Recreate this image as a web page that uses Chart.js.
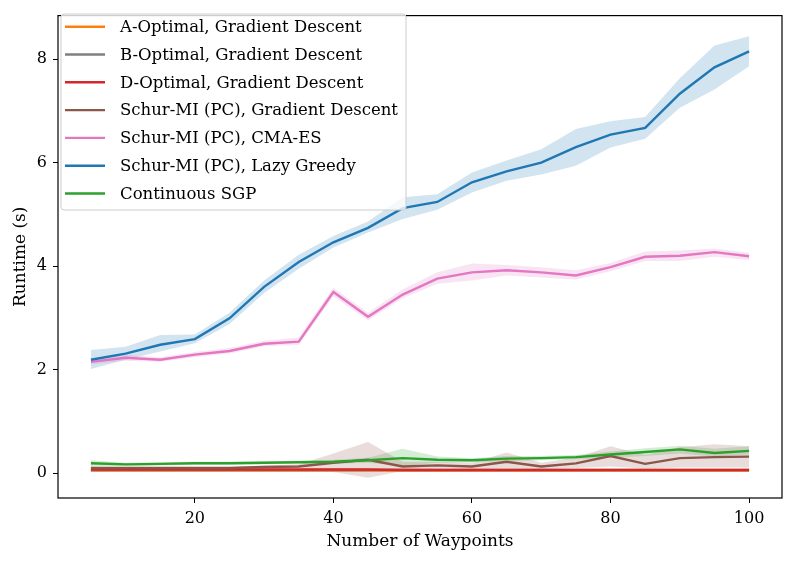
<!DOCTYPE html>
<html><head><meta charset="utf-8">
<script src="https://cdn.jsdelivr.net/npm/chart.js@4.4.0/dist/chart.umd.min.js"></script>
<style>html,body{margin:0;padding:0;background:#fff}#wrap{width:794px;height:562px}</style>
</head><body><div id="wrap"><canvas id="c" width="794" height="562"></canvas></div>
<script>
const waypoints = [5,10,15,20,25,30,35,40,45,50,55,60,65,70,75,80,85,90,95,100];
const xTicks = [20,40,60,80,100];
const yTicks = [0,2,4,6,8];
const seriesNames = ["A-Optimal, Gradient Descent","B-Optimal, Gradient Descent","D-Optimal, Gradient Descent","Schur-MI (PC), Gradient Descent","Schur-MI (PC), CMA-ES","Schur-MI (PC), Lazy Greedy","Continuous SGP"];
const seriesColors = ["#ff7f0e","#7f7f7f","#d62728","#8c564b","#e377c2","#1f77b4","#2ca02c"];

const aOptimal = [0.05,0.05,0.05,0.05,0.05,0.05,0.05,0.05,0.05,0.05,0.05,0.05,0.05,0.05,0.05,0.05,0.05,0.05,0.05,0.05];
const bOptimal = [0.06,0.06,0.06,0.06,0.06,0.06,0.06,0.06,0.06,0.06,0.06,0.06,0.06,0.06,0.06,0.06,0.06,0.06,0.06,0.06];
const dOptimal = [0.07,0.07,0.07,0.07,0.07,0.07,0.07,0.07,0.07,0.06,0.06,0.06,0.06,0.06,0.06,0.06,0.06,0.06,0.06,0.06];

const schurGD    = [0.10,0.10,0.10,0.10,0.10,0.12,0.13,0.20,0.26,0.13,0.15,0.13,0.22,0.13,0.19,0.33,0.18,0.29,0.31,0.32];
const schurGDLo  = [0.08,0.08,0.08,0.08,0.08,0.09,0.10,0.02,-0.09,0.04,0.09,0.08,0.09,0.08,0.10,0.13,0.09,0.11,0.11,0.11];
const schurGDHi  = [0.12,0.12,0.12,0.12,0.12,0.15,0.17,0.38,0.60,0.22,0.22,0.20,0.40,0.20,0.30,0.52,0.35,0.50,0.56,0.52];

const cmaes      = [2.15,2.23,2.19,2.29,2.36,2.50,2.54,3.50,3.02,3.45,3.76,3.88,3.92,3.88,3.82,3.98,4.18,4.20,4.27,4.19];
const cmaesLo    = [2.10,2.17,2.15,2.24,2.31,2.45,2.48,3.42,2.95,3.38,3.66,3.72,3.82,3.78,3.74,3.90,4.10,4.10,4.18,4.12];
const cmaesHi    = [2.20,2.29,2.24,2.34,2.42,2.56,2.62,3.58,3.10,3.55,3.88,4.05,4.02,3.98,3.92,4.06,4.28,4.30,4.34,4.26];

const lazyGreedy = [2.19,2.31,2.48,2.59,2.99,3.60,4.08,4.46,4.74,5.12,5.24,5.62,5.83,6.00,6.30,6.54,6.67,7.33,7.84,8.15];
const lazyLo     = [2.01,2.19,2.35,2.51,2.88,3.48,3.95,4.36,4.65,4.91,5.09,5.42,5.65,5.77,5.94,6.29,6.46,7.06,7.41,7.86];
const lazyHi     = [2.38,2.44,2.67,2.68,3.10,3.72,4.22,4.58,4.86,5.33,5.39,5.81,6.04,6.26,6.65,6.80,6.88,7.63,8.26,8.44];

const sgp        = [0.19,0.17,0.18,0.19,0.19,0.20,0.21,0.22,0.25,0.29,0.26,0.25,0.28,0.29,0.31,0.36,0.41,0.46,0.39,0.43];
const sgpLo      = [0.13,0.14,0.15,0.16,0.16,0.17,0.18,0.18,0.20,0.14,0.20,0.21,0.23,0.25,0.27,0.30,0.33,0.38,0.32,0.36];
const sgpHi      = [0.25,0.20,0.21,0.22,0.22,0.23,0.24,0.26,0.30,0.47,0.32,0.29,0.33,0.33,0.35,0.42,0.48,0.53,0.47,0.52];

const FONT = "'DejaVu Serif', serif";
const pts = arr => arr.map((v,i)=>({x:waypoints[i], y:v}));
function hexA(hex,a){const n=parseInt(hex.slice(1),16);return `rgba(${n>>16&255},${n>>8&255},${n&255},${a})`;}
function line(idx, data, order){
  return {label:seriesNames[idx], data:pts(data), borderColor:seriesColors[idx], borderWidth:2.4, pointRadius:0, fill:false, tension:0, order:order};
}
function band(idx, lo, hi, order){
  return [
    {label:'_lo'+idx, data:pts(lo), borderWidth:0, borderColor:'rgba(0,0,0,0)', pointRadius:0, fill:false, order:order},
    {label:'_hi'+idx, data:pts(hi), borderWidth:0, borderColor:'rgba(0,0,0,0)', pointRadius:0, fill:'-1', backgroundColor:hexA(seriesColors[idx],0.2), order:order}
  ];
}
const datasets = [
  ...band(3, schurGDLo, schurGDHi, 50),
  ...band(4, cmaesLo, cmaesHi, 50),
  ...band(5, lazyLo, lazyHi, 50),
  ...band(6, sgpLo, sgpHi, 50),
  line(0, aOptimal, 10),
  line(1, bOptimal, 9),
  line(2, dOptimal, 8),
  line(3, schurGD, 7),
  line(4, cmaes, 6),
  line(5, lazyGreedy, 5),
  line(6, sgp, 4)
];

const framePlugin = {
  id:'frameAndLegend',
  afterDraw(chart){
    const ctx = chart.ctx, a = chart.chartArea;
    ctx.save();
    ctx.strokeStyle = '#000'; ctx.lineWidth = 1.2;
    ctx.strokeRect(a.left, a.top, a.right-a.left, a.bottom-a.top);
    const x=61, y=14, w=345, h=196, r=3;
    ctx.beginPath();
    ctx.moveTo(x+r,y); ctx.lineTo(x+w-r,y); ctx.quadraticCurveTo(x+w,y,x+w,y+r);
    ctx.lineTo(x+w,y+h-r); ctx.quadraticCurveTo(x+w,y+h,x+w-r,y+h);
    ctx.lineTo(x+r,y+h); ctx.quadraticCurveTo(x,y+h,x,y+h-r);
    ctx.lineTo(x,y+r); ctx.quadraticCurveTo(x,y,x+r,y); ctx.closePath();
    ctx.fillStyle='rgba(255,255,255,0.8)'; ctx.fill();
    ctx.strokeStyle='#cccccc'; ctx.lineWidth=1; ctx.stroke();
    ctx.font = '16.5px ' + FONT; ctx.textBaseline='middle'; ctx.textAlign='left';
    seriesNames.forEach((name,i)=>{
      const cy = 26.7 + i*27.8;
      ctx.beginPath(); ctx.moveTo(65,cy); ctx.lineTo(105,cy);
      ctx.strokeStyle = seriesColors[i]; ctx.lineWidth=2.4; ctx.stroke();
      ctx.fillStyle='#000';
      const tw = ctx.measureText(name).width;
      const target = 278 * tw / ctx.measureText(seriesNames[3]).width;
      ctx.save(); ctx.translate(120, cy+1); ctx.scale(target/tw, 1); ctx.fillText(name, 0, 0); ctx.restore();
    });
    ctx.restore();
  }
};

new Chart(document.getElementById('c'), {
  type:'line',
  data:{datasets},
  options:{
    responsive:false, animation:false,
    layout:{padding:{top:11,right:12,left:0,bottom:0}},
    plugins:{legend:{display:false}, tooltip:{enabled:false}},
    scales:{
      x:{type:'linear', min:0.25, max:104.75,
        afterBuildTicks:s=>{s.ticks = xTicks.map(v=>({value:v}));},
        afterFit:s=>{s.height=64;},
        ticks:{color:'#000', font:{family:FONT,size:16}, padding:6, maxRotation:0},
        grid:{display:true, drawOnChartArea:false, drawTicks:true, tickLength:5, tickColor:'#000', lineWidth:1},
        border:{display:false},
        title:{display:true, text:'Number of Waypoints', color:'#000', font:{family:FONT,size:17}, padding:{top:0,bottom:10}}
      },
      y:{type:'linear', min:-0.48, max:8.84,
        afterBuildTicks:s=>{s.ticks = yTicks.map(v=>({value:v}));},
        afterFit:s=>{s.width=58;},
        ticks:{color:'#000', font:{family:FONT,size:16}, padding:6},
        grid:{display:true, drawOnChartArea:false, drawTicks:true, tickLength:5, tickColor:'#000', lineWidth:1},
        border:{display:false},
        title:{display:true, text:'Runtime (s)', color:'#000', font:{family:FONT,size:17}, padding:{top:10,bottom:0}}
      }
    }
  },
  plugins:[framePlugin]
});
</script>
</body></html>
